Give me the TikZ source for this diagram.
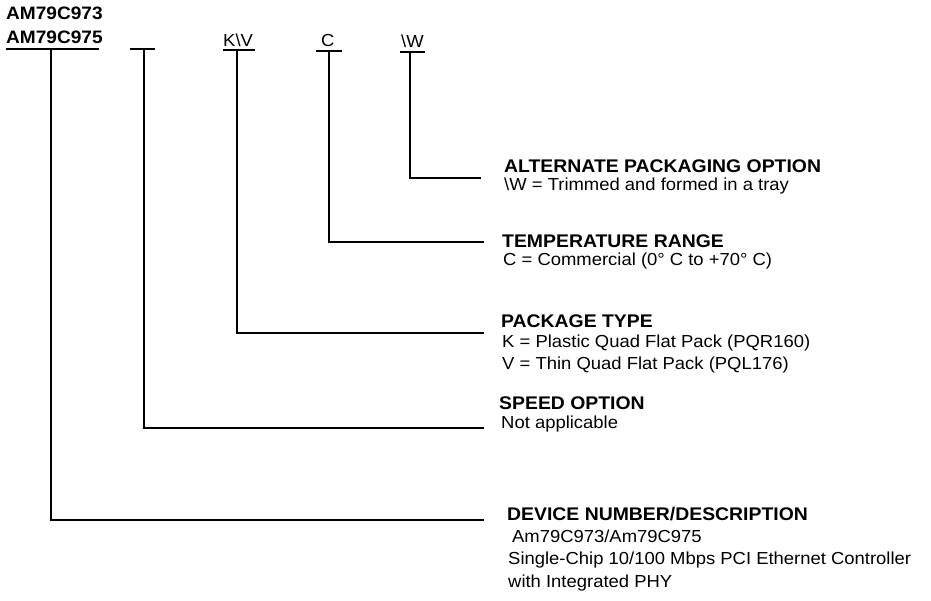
\documentclass[tikz,border=0pt]{standalone}
\usepackage{fontspec}
\setmainfont{Liberation Sans}[FakeStretch=1.06]
\begin{document}
\begin{tikzpicture}[x=1pt,y=-1pt,
  code/.style={anchor=base west, inner sep=0pt, font=\fontsize{18}{20}\selectfont\bfseries},
  ttl/.style={anchor=base west, inner sep=0pt, font=\fontsize{18.3}{20}\selectfont\bfseries},
  txt/.style={anchor=base west, inner sep=0pt, font=\fontsize{17.4}{20}\selectfont},
  lead/.style={line width=2pt, line cap=rect}]
\useasboundingbox (0,0) rectangle (931,601);
% ordering code fields
\node[code] (n1) at (6,19.5) {AM79C973};
\node[code] (n2) at (6,44) {AM79C975};
\node[txt] (kv) at (223,46.5) {K\textbackslash V};
\node[txt] (c) at (321,47) {C};
\node[txt] (w) at (401,47.5) {\textbackslash W};
% underlines
\coordinate (u1l) at (7,49.5);   \coordinate (u1r) at (98,49.5);  \coordinate (u1) at (51,49.5);
\coordinate (u2l) at (131,49.5); \coordinate (u2r) at (154,49.5); \coordinate (u2) at (144,49.5);
\coordinate (u3l) at (224,50.5); \coordinate (u3r) at (254,50.5); \coordinate (u3) at (237,50.5);
\coordinate (u4l) at (317,51);   \coordinate (u4r) at (341,51);   \coordinate (u4) at (329,51);
\coordinate (u5l) at (401,52);   \coordinate (u5r) at (424,52);   \coordinate (u5) at (410,52);
\foreach \i in {1,...,5} {\draw[lead] (u\i l) -- (u\i r);}
% leader ends
\coordinate (e5) at (480,178);
\coordinate (e4) at (483,242);
\coordinate (e3) at (483,333);
\coordinate (e2) at (483,428);
\coordinate (e1) at (483,520);
\foreach \i in {1,...,5} {\draw[lead] (u\i) |- (e\i);}
% descriptions
\node[ttl] (t5) at (504,173) {ALTERNATE PACKAGING OPTION};
\node[txt] (d5) at (504,190.5) {\textbackslash W = Trimmed and formed in a tray};
\node[ttl] (t4) at (502,248) {TEMPERATURE RANGE};
\node[txt] (d4) at (503,265.5) {C = Commercial (0° C to +70° C)};
\node[ttl] (t3) at (501,327) {PACKAGE TYPE};
\node[txt] (d3a) at (502,348) {K = Plastic Quad Flat Pack (PQR160)};
\node[txt] (d3b) at (502,369) {V = Thin Quad Flat Pack (PQL176)};
\node[ttl] (t2) at (499,409) {SPEED OPTION};
\node[txt] (d2) at (501,428) {Not applicable};
\node[ttl] (t1) at (507,520) {DEVICE NUMBER/DESCRIPTION};
\node[txt] (d1a) at (509,542) {\,Am79C973/Am79C975};
\node[txt] (d1b) at (508,564) {Single-Chip 10/100 Mbps PCI Ethernet Controller};
\node[txt] (d1c) at (508,587) {with Integrated PHY};
\end{tikzpicture}
\end{document}
